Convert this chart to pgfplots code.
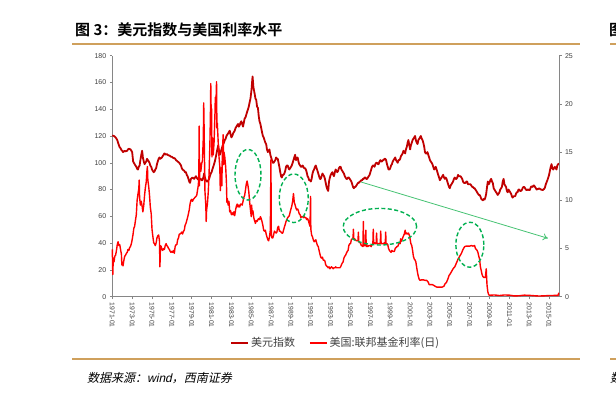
\documentclass[border=0pt]{standalone}
\usepackage{pgfplots}
\pgfplotsset{compat=1.18}
\usepackage{fontspec}
\setmainfont{Liberation Sans}
\newfontfamily\cjk[BoldFont={Noto Sans CJK SC Bold}]{Noto Sans CJK SC}
\newfontfamily\cjkit[FakeSlant=0.22]{Noto Sans CJK SC}
\newfontfamily\latit[FakeSlant=0.22]{Liberation Sans}
\usetikzlibrary{arrows.meta}
\definecolor{dxy}{RGB}{192,0,0}
\definecolor{ffr}{RGB}{255,0,0}
\definecolor{goldl}{RGB}{207,160,92}
\definecolor{egreen}{RGB}{0,176,80}
\definecolor{agreen}{RGB}{70,195,115}
\definecolor{axgray}{RGB}{134,134,134}
\definecolor{txt}{RGB}{64,64,64}
\pgfplotsset{
  common/.style={
    at={(112.3pt,109.3pt)}, anchor=south west, scale only axis,
    width=446.7pt, height=241pt, xmin=1971, xmax=2016,
    /pgf/number format/assume math mode=true,
    tick align=outside, major tick length=2.5pt,
    tick style={axgray, line width=0.5pt},
    axis line style={axgray, line width=0.6pt},
    y tick label style={font=\fontsize{7}{8}\selectfont, text=txt},
    clip=false,
  }
}
\begin{document}
\begin{tikzpicture}
\useasboundingbox[fill=white] (0,0) rectangle (616pt,406pt);
\draw[goldl,line width=2pt] (72pt,362pt) -- (580pt,362pt);
\draw[goldl,line width=2pt] (72pt,46.5pt) -- (580pt,46.5pt);
\draw[goldl,line width=2pt] (610pt,362pt) -- (620pt,362pt);
\draw[goldl,line width=2pt] (610pt,46.5pt) -- (620pt,46.5pt);
\node[anchor=west, inner sep=0pt] at (75pt,376pt) {\cjk\bfseries\fontsize{15}{17}\selectfont 图 3：美元指数与美国利率水平};
\node[anchor=west, inner sep=0pt] at (609pt,376pt) {\cjk\bfseries\fontsize{15}{17}\selectfont 图};
\node[anchor=west, inner sep=0pt] at (87pt,28pt) {\cjkit\fontsize{12}{14}\selectfont 数据来源：{\latit wind}，西南证券};
\node[anchor=west, inner sep=0pt] at (610pt,28pt) {\cjkit\fontsize{12}{14}\selectfont 数};
\begin{axis}[common, ymin=0, ymax=180,
  axis x line*=bottom, axis y line*=left,
  ytick={0,20,...,180},
  xtick={1971,1973,...,2015},
  xticklabels={1971-01,1973-01,1975-01,1977-01,1979-01,1981-01,1983-01,1985-01,1987-01,1989-01,1991-01,1993-01,1995-01,1997-01,1999-01,2001-01,2003-01,2005-01,2007-01,2009-01,2011-01,2013-01,2015-01},
  x tick label style={rotate=-90, anchor=west, font=\fontsize{6.8}{8}\selectfont, text=txt},
]
\addplot[dxy, line width=1.8pt, line join=round] coordinates {
(1971.00,120.5)(1971.08,120.2)(1971.17,120)(1971.25,119.5)(1971.33,119)(1971.42,118)(1971.50,117)(1971.58,115)(1971.67,113)(1971.75,111.5)(1971.83,111)(1971.92,109.5)
(1972.00,109)(1972.08,108)(1972.17,108.5)(1972.25,109)(1972.33,108.5)(1972.50,109)(1972.58,110)(1972.67,110.5)(1972.83,110)(1972.92,109)
(1973.00,108)(1973.10,101)(1973.17,100)(1973.25,99)(1973.33,98)(1973.42,97)(1973.50,95.5)(1973.58,95)(1973.67,97)(1973.75,98)(1973.83,102)(1973.92,106)
(1974.00,109)(1974.04,107)(1974.08,104)(1974.17,101)(1974.25,99)(1974.33,100)(1974.42,101)(1974.50,103)(1974.58,102)(1974.67,101)(1974.75,100)(1974.83,98)(1974.92,97)
(1975.00,95)(1975.08,94)(1975.17,93)(1975.25,93.5)(1975.33,95)(1975.42,96)(1975.50,99)(1975.58,101)(1975.67,103)(1975.75,104)(1975.83,103)(1975.92,103.5)
(1976.00,104)(1976.08,105)(1976.17,106)(1976.25,107)(1976.33,106.5)(1976.42,106)(1976.50,106.5)(1976.58,106)(1976.67,105.5)(1976.75,105.5)(1976.83,105)(1976.92,104.5)
(1977.00,104.5)(1977.08,104)(1977.17,103.5)(1977.25,103.5)(1977.33,103)(1977.42,102)(1977.50,101.5)(1977.58,101)(1977.67,100.5)(1977.75,100)(1977.83,99)(1977.92,98)
(1978.00,96)(1978.08,95)(1978.17,94.5)(1978.25,94)(1978.33,93)(1978.42,93)(1978.50,91)(1978.58,90)(1978.67,88)(1978.75,86)(1978.83,85)(1978.92,88)
(1979.00,88.5)(1979.08,89)(1979.17,88.5)(1979.25,88)(1979.33,89)(1979.42,90)(1979.50,89)(1979.58,88)(1979.67,87.5)(1979.75,87)(1979.83,88)(1979.92,88)
(1980.00,87)(1980.08,87)(1980.17,89)(1980.25,92)(1980.33,89)(1980.42,87)(1980.50,86)(1980.58,86)(1980.67,87)(1980.75,88)(1980.83,90)(1980.92,92)
(1981.00,93)(1981.08,95)(1981.17,97)(1981.25,99)(1981.33,101)(1981.42,104)(1981.50,107)(1981.58,110)(1981.67,113)(1981.75,109)(1981.83,106)(1981.92,108)
(1982.00,110)(1982.08,112)(1982.17,114)(1982.25,115)(1982.33,117)(1982.42,118)(1982.50,120)(1982.58,121)(1982.67,122)(1982.75,123)(1982.83,124)(1982.92,121)
(1983.00,119)(1983.08,120)(1983.17,122)(1983.25,123)(1983.33,124)(1983.42,126)(1983.50,127)(1983.58,128)(1983.67,129)(1983.75,127)(1983.83,128)(1983.92,130)
(1984.00,131)(1984.08,129)(1984.17,127)(1984.25,130)(1984.33,133)(1984.42,134)(1984.50,136)(1984.58,138)(1984.67,140)(1984.75,142)(1984.83,145)(1984.92,148)
(1985.00,153)(1985.04,156)(1985.08,160)(1985.13,164.5)(1985.17,161)(1985.21,157)(1985.25,155)(1985.33,152)(1985.42,148)(1985.50,147)(1985.58,142)(1985.67,141)(1985.75,135)(1985.83,131)(1985.92,129)
(1986.00,126)(1986.08,123)(1986.17,120)(1986.25,119)(1986.33,117)(1986.42,115)(1986.50,114)(1986.58,110)(1986.67,108)(1986.75,109)(1986.83,110)(1986.92,106)
(1987.00,104)(1987.08,102)(1987.17,100)(1987.25,100)(1987.33,101)(1987.42,102)(1987.50,104)(1987.58,103)(1987.67,103)(1987.75,100)(1987.83,97)(1987.92,93)
(1988.00,90)(1988.08,89)(1988.17,91)(1988.25,91)(1988.33,92)(1988.42,94)(1988.50,97)(1988.58,98)(1988.67,98)(1988.75,96)(1988.83,95)(1988.92,96)
(1989.00,97)(1989.08,98)(1989.17,100)(1989.25,102)(1989.33,104)(1989.42,106)(1989.50,102)(1989.58,103)(1989.67,104)(1989.75,101)(1989.83,99)(1989.92,98)
(1990.00,97)(1990.08,97)(1990.17,98)(1990.25,97)(1990.33,96)(1990.42,96)(1990.50,95)(1990.58,93)(1990.67,90)(1990.75,89)(1990.83,87)(1990.92,87)
(1991.00,86)(1991.08,88)(1991.17,92)(1991.25,94)(1991.33,95)(1991.42,97)(1991.50,98)(1991.58,96)(1991.67,94)(1991.75,92)(1991.83,90)(1991.92,88)
(1992.00,88)(1992.08,90)(1992.17,92)(1992.25,91)(1992.33,90)(1992.42,88)(1992.50,85)(1992.58,82)(1992.67,80)(1992.75,79)(1992.83,86)(1992.92,89)
(1993.00,91)(1993.08,92)(1993.17,93)(1993.25,91)(1993.33,90)(1993.42,93)(1993.50,95)(1993.58,94)(1993.67,93)(1993.75,94)(1993.83,96)(1993.92,97)
(1994.00,97)(1994.08,95)(1994.17,94)(1994.25,93)(1994.33,92)(1994.42,90)(1994.50,89)(1994.58,88)(1994.67,88)(1994.75,89)(1994.83,89)(1994.92,88)
(1995.00,87)(1995.08,86)(1995.17,84)(1995.25,82)(1995.33,81)(1995.42,82)(1995.50,82)(1995.58,83)(1995.67,84)(1995.75,85)(1995.83,85)(1995.92,86)
(1996.00,86)(1996.08,87)(1996.17,87)(1996.25,88)(1996.33,88)(1996.42,89)(1996.50,89)(1996.58,88)(1996.67,88)(1996.75,89)(1996.83,90)(1996.92,91)
(1997.00,93)(1997.08,95)(1997.17,97)(1997.25,98)(1997.33,98)(1997.42,97)(1997.50,99)(1997.58,100)(1997.67,100)(1997.75,99)(1997.83,99)(1997.92,101)
(1998.00,102)(1998.08,101)(1998.17,101)(1998.25,102)(1998.33,102)(1998.42,103)(1998.50,103)(1998.58,102)(1998.67,99)(1998.75,97)(1998.83,95)(1998.92,95)
(1999.00,96)(1999.08,98)(1999.17,99)(1999.25,101)(1999.33,102)(1999.42,103)(1999.50,104)(1999.58,102)(1999.67,101)(1999.75,100)(1999.83,102)(1999.92,102)
(2000.00,103)(2000.08,105)(2000.17,106)(2000.25,107)(2000.33,109)(2000.42,108)(2000.50,107)(2000.58,110)(2000.67,112)(2000.75,115)(2000.83,117)(2000.92,113)
(2001.00,110)(2001.08,113)(2001.17,115)(2001.25,117)(2001.33,118)(2001.42,119)(2001.50,120)(2001.58,117)(2001.67,115)(2001.75,114)(2001.83,117)(2001.92,118)
(2002.00,119)(2002.08,120)(2002.17,118)(2002.25,117)(2002.33,115)(2002.42,112)(2002.50,108)(2002.58,107)(2002.67,107)(2002.75,108)(2002.83,106)(2002.92,104)
(2003.00,102)(2003.08,101)(2003.17,100)(2003.25,99)(2003.33,97)(2003.42,95)(2003.50,96)(2003.58,97)(2003.67,95)(2003.75,93)(2003.83,91)(2003.92,89)
(2004.00,87)(2004.08,88)(2004.17,89)(2004.25,90)(2004.33,91)(2004.42,89)(2004.50,88)(2004.58,89)(2004.67,88)(2004.75,86)(2004.83,84)(2004.92,82)
(2005.00,81)(2005.08,83)(2005.17,84)(2005.25,85)(2005.33,86)(2005.42,88)(2005.50,89)(2005.58,88)(2005.67,88)(2005.75,89)(2005.83,91)(2005.92,90)
(2006.00,90)(2006.08,90)(2006.17,89)(2006.25,88)(2006.33,86)(2006.42,85)(2006.50,85)(2006.58,85)(2006.67,86)(2006.75,86)(2006.83,84)(2006.92,84)
(2007.00,84)(2007.08,84)(2007.17,83)(2007.25,82)(2007.33,82)(2007.42,81)(2007.50,81)(2007.58,80)(2007.67,79)(2007.75,78)(2007.83,77)(2007.92,76)
(2008.00,76)(2008.08,75)(2008.17,73)(2008.25,72.5)(2008.33,72)(2008.42,73)(2008.50,72.5)(2008.58,74)(2008.67,77)(2008.75,82)(2008.83,86)(2008.92,84)
(2009.00,85)(2009.08,87)(2009.17,88)(2009.25,86)(2009.33,85)(2009.42,81)(2009.50,80)(2009.58,79)(2009.67,78)(2009.75,77)(2009.83,76)(2009.92,77)
(2010.00,78)(2010.08,80)(2010.17,81)(2010.25,82)(2010.33,86)(2010.42,88)(2010.50,84)(2010.58,83)(2010.67,82)(2010.75,79)(2010.83,78)(2010.92,80)
(2011.00,79)(2011.08,78)(2011.17,77)(2011.25,75)(2011.33,74)(2011.42,75)(2011.50,75)(2011.58,75)(2011.67,77)(2011.75,78)(2011.83,78)(2011.92,80)
(2012.00,80)(2012.08,79)(2012.17,79)(2012.25,79.5)(2012.33,81)(2012.42,82)(2012.50,82)(2012.58,81)(2012.67,80)(2012.75,79.5)(2012.83,80)(2012.92,80)
(2013.00,79.5)(2013.08,80)(2013.17,82)(2013.25,82.5)(2013.33,82)(2013.42,83)(2013.50,83)(2013.58,82)(2013.67,81)(2013.75,80)(2013.83,80.5)(2013.92,80.5)
(2014.00,81)(2014.08,80.5)(2014.17,80)(2014.25,80)(2014.33,79.5)(2014.42,80)(2014.50,80.5)(2014.58,81.5)(2014.67,84)(2014.75,85.5)(2014.83,87)(2014.92,89)
(2015.00,91)(2015.08,94)(2015.17,97)(2015.25,99)(2015.33,96)(2015.42,95)(2015.50,96)(2015.58,97)(2015.67,96)(2015.75,95)(2015.83,98)(2015.92,99)(2016.00,99.5)
};
\end{axis}
\begin{axis}[common, ymin=0, ymax=25,
  axis y line*=right, axis x line=none,
  ytick={0,5,...,25},
  legend columns=2,
  legend style={at={(0.5,-0.192)}, anchor=center, draw=none, fill=none,
    font=\cjk\fontsize{11}{13}\selectfont, text=txt,
    /tikz/every even column/.append style={column sep=12pt}},
  legend image code/.code={\draw[#1] (0pt,0pt) -- (17pt,0pt);},
]
\addlegendimage{dxy, line width=1.8pt}
\addlegendentry{美元指数}
\addplot[ffr, line width=1.4pt, line join=round] coordinates {
(1971.00,4.9)(1971.05,2.3)(1971.10,4.0)(1971.17,3.6)(1971.25,4.2)(1971.33,4.3)(1971.42,4.8)(1971.50,5.4)(1971.58,5.7)(1971.67,5.3)(1971.75,5.4)(1971.83,4.9)(1971.92,4.4)(1971.96,3.3)
(1972.00,3.6)(1972.08,3.2)(1972.17,3.8)(1972.25,4.2)(1972.33,4.3)(1972.42,4.5)(1972.50,4.6)(1972.58,4.9)(1972.67,4.8)(1972.75,5.1)(1972.83,5.2)(1972.92,5.5)
(1973.00,5.9)(1973.08,6.4)(1973.17,7.1)(1973.25,7.3)(1973.33,7.9)(1973.42,8.5)(1973.50,10.0)(1973.58,10.6)(1973.67,11.2)(1973.71,12.1)(1973.75,10.3)(1973.83,9.5)(1973.92,9.9)
(1974.00,9.4)(1974.08,8.8)(1974.17,9.5)(1974.25,10.5)(1974.33,11.3)(1974.42,11.9)(1974.50,13.2)(1974.54,13.5)(1974.58,12.1)(1974.67,11.4)(1974.75,10.5)(1974.83,9.3)(1974.92,8.6)
(1975.00,7.0)(1975.08,6.3)(1975.17,5.6)(1975.25,5.5)(1975.33,5.3)(1975.42,5.6)(1975.50,6.1)(1975.58,6.3)(1975.67,6.4)(1975.75,5.8)(1975.80,3.1)(1975.85,5.3)(1975.92,5.2)
(1976.00,4.9)(1976.08,4.8)(1976.17,5.0)(1976.25,4.9)(1976.33,5.3)(1976.42,5.5)(1976.50,5.3)(1976.58,5.2)(1976.67,5.0)(1976.75,4.9)(1976.83,4.7)(1976.92,4.6)
(1977.00,4.7)(1977.08,4.6)(1977.17,4.8)(1977.25,4.5)(1977.33,5.2)(1977.42,5.4)(1977.50,5.4)(1977.58,5.9)(1977.67,6.1)(1977.75,6.5)(1977.83,6.5)(1977.92,6.6)
(1978.00,6.7)(1978.08,6.5)(1978.17,6.8)(1978.25,6.9)(1978.33,7.4)(1978.42,7.6)(1978.50,7.9)(1978.58,8.2)(1978.67,8.6)(1978.75,9.0)(1978.83,9.6)(1978.92,10.0)
(1979.00,10.1)(1979.08,9.9)(1979.17,10.1)(1979.25,10.2)(1979.33,10.3)(1979.42,10.4)(1979.50,10.5)(1979.58,11.0)(1979.67,11.6)(1979.72,12.8)(1979.75,17.7)(1979.78,11.5)(1979.83,13.9)(1979.92,13.0)
(1980.00,13.8)(1980.08,14.1)(1980.17,16.5)(1980.21,20.1)(1980.25,17.4)(1980.33,11.0)(1980.42,9.5)(1980.46,7.8)(1980.50,9.0)(1980.58,9.6)(1980.67,10.9)(1980.75,12.8)(1980.83,15.8)(1980.88,18.5)(1980.92,22.1)(1980.96,19.0)
(1981.00,19.5)(1981.04,14.5)(1981.08,16.5)(1981.17,14.7)(1981.25,16.0)(1981.33,18.5)(1981.38,20.7)(1981.42,19.1)(1981.50,22.3)(1981.54,17.5)(1981.58,18.0)(1981.67,16.0)(1981.75,14.5)(1981.83,13.5)(1981.88,11.0)(1981.92,12.5)
(1982.00,13.4)(1982.04,11.5)(1982.08,14.8)(1982.17,16.8)(1982.21,13.7)(1982.25,15.0)(1982.33,14.5)(1982.42,13.5)(1982.50,11.8)(1982.54,9.8)(1982.58,10.2)(1982.67,9.5)(1982.75,9.9)(1982.83,8.8)(1982.92,8.9)
(1983.00,8.5)(1983.08,8.7)(1983.17,8.5)(1983.25,8.8)(1983.33,8.4)(1983.42,9.0)(1983.50,9.4)(1983.58,9.6)(1983.67,9.3)(1983.75,9.5)(1983.83,9.3)(1983.92,9.6)
(1984.00,9.6)(1984.08,9.5)(1984.17,9.9)(1984.25,10.3)(1984.33,10.5)(1984.42,11.1)(1984.50,11.7)(1984.58,12.0)(1984.67,11.5)(1984.75,10.9)(1984.83,9.9)(1984.92,9.0)
(1985.00,8.3)(1985.04,9.5)(1985.08,8.6)(1985.17,8.9)(1985.25,8.2)(1985.33,7.9)(1985.42,7.6)(1985.50,7.9)(1985.58,7.8)(1985.67,8.0)(1985.75,8.1)(1985.83,8.0)(1985.92,8.3)
(1986.00,8.1)(1986.08,7.8)(1986.17,7.4)(1986.25,6.9)(1986.33,6.8)(1986.42,6.9)(1986.50,6.5)(1986.58,6.2)(1986.67,5.9)(1986.75,5.8)(1986.83,6.2)(1986.92,6.9)(1986.98,14.2)
(1987.02,6.4)(1987.08,6.1)(1987.17,6.1)(1987.25,6.4)(1987.33,6.8)(1987.42,6.7)(1987.50,6.6)(1987.58,6.7)(1987.67,7.2)(1987.75,7.3)(1987.83,6.8)(1987.92,6.8)
(1988.00,6.7)(1988.08,6.6)(1988.17,6.6)(1988.25,6.9)(1988.33,7.2)(1988.42,7.5)(1988.50,7.8)(1988.58,8.0)(1988.67,8.2)(1988.75,8.3)(1988.83,8.4)(1988.92,8.8)
(1989.00,9.1)(1989.08,9.4)(1989.17,9.9)(1989.25,10.7)(1989.33,9.8)(1989.42,9.5)(1989.50,9.2)(1989.58,9.0)(1989.67,9.1)(1989.75,8.9)(1989.83,8.6)(1989.92,8.5)
(1990.00,8.2)(1990.08,8.3)(1990.17,8.3)(1990.25,8.2)(1990.33,8.3)(1990.42,8.2)(1990.50,8.2)(1990.58,8.0)(1990.67,8.1)(1990.75,7.9)(1990.83,7.6)(1990.92,7.3)(1990.97,10.4)
(1991.00,7.0)(1991.08,6.4)(1991.17,6.2)(1991.25,5.9)(1991.33,5.7)(1991.42,5.8)(1991.50,5.9)(1991.58,5.6)(1991.67,5.3)(1991.75,5.2)(1991.83,4.8)(1991.92,4.4)
(1992.00,4.1)(1992.08,4.0)(1992.17,4.1)(1992.25,3.8)(1992.33,3.8)(1992.42,3.7)(1992.50,3.3)(1992.58,3.2)(1992.67,3.1)(1992.75,3.0)(1992.83,3.1)(1992.92,2.9)
(1993.00,3.0)(1993.08,3.1)(1993.17,3.0)(1993.25,2.9)(1993.33,3.0)(1993.42,3.0)(1993.50,3.1)(1993.58,3.0)(1993.67,3.0)(1993.75,3.0)(1993.83,3.0)(1993.92,3.0)
(1994.00,3.1)(1994.08,3.3)(1994.17,3.5)(1994.25,3.6)(1994.33,4.0)(1994.42,4.2)(1994.50,4.3)(1994.58,4.5)(1994.67,4.7)(1994.75,4.8)(1994.83,5.3)(1994.92,5.5)
(1995.00,5.5)(1995.08,5.9)(1995.17,6.0)(1995.25,6.1)(1995.29,7.0)(1995.33,6.0)(1995.42,6.0)(1995.50,5.9)(1995.58,5.8)(1995.67,5.8)(1995.75,5.8)(1995.79,6.7)(1995.83,5.7)(1995.92,5.6)
(1996.00,5.6)(1996.08,5.3)(1996.17,5.3)(1996.25,5.2)(1996.29,7.8)(1996.33,5.3)(1996.42,5.3)(1996.50,5.4)(1996.54,6.9)(1996.58,5.2)(1996.67,5.3)(1996.75,5.2)(1996.83,5.3)(1996.92,5.3)
(1997.00,5.3)(1997.08,5.2)(1997.17,5.4)(1997.25,5.5)(1997.29,7.0)(1997.33,5.5)(1997.42,5.6)(1997.50,5.5)(1997.58,5.5)(1997.62,6.6)(1997.67,5.5)(1997.75,5.5)(1997.83,5.5)(1997.92,5.5)
(1998.00,5.6)(1998.04,6.8)(1998.08,5.5)(1998.17,5.5)(1998.25,5.5)(1998.33,5.5)(1998.42,5.6)(1998.50,5.5)(1998.54,6.7)(1998.58,5.5)(1998.67,5.5)(1998.75,5.4)(1998.83,5.0)(1998.92,4.8)
(1999.00,4.7)(1999.08,4.6)(1999.17,4.8)(1999.25,4.7)(1999.33,4.7)(1999.42,4.7)(1999.50,5.0)(1999.58,5.1)(1999.67,5.2)(1999.75,5.2)(1999.83,5.4)(1999.92,5.6)
(2000.00,5.5)(2000.04,6.0)(2000.08,5.7)(2000.17,5.9)(2000.25,6.1)(2000.33,6.3)(2000.42,6.5)(2000.50,6.9)(2000.58,6.5)(2000.67,6.6)(2000.75,6.5)(2000.83,6.6)(2000.92,6.4)
(2001.00,6.0)(2001.08,5.5)(2001.17,5.3)(2001.25,4.8)(2001.33,4.2)(2001.42,3.9)(2001.50,3.8)(2001.58,3.6)(2001.67,3.0)(2001.75,2.5)(2001.83,2.1)(2001.92,1.8)
(2002.00,1.7)(2002.17,1.75)(2002.33,1.75)(2002.50,1.7)(2002.67,1.7)(2002.83,1.5)(2002.92,1.25)
(2003.00,1.25)(2003.25,1.25)(2003.50,1.1)(2003.67,1.0)(2003.83,1.0)
(2004.00,1.0)(2004.25,1.0)(2004.42,1.1)(2004.50,1.3)(2004.67,1.5)(2004.83,1.9)(2004.92,2.2)
(2005.00,2.3)(2005.17,2.6)(2005.33,2.9)(2005.50,3.1)(2005.67,3.5)(2005.83,3.9)
(2006.00,4.2)(2006.17,4.5)(2006.33,4.9)(2006.50,5.2)(2006.67,5.25)(2006.83,5.25)
(2007.00,5.25)(2007.17,5.3)(2007.33,5.25)(2007.50,5.3)(2007.58,5.0)(2007.67,4.9)(2007.75,4.8)(2007.83,4.6)(2007.92,4.2)
(2008.00,3.9)(2008.08,3.1)(2008.17,2.7)(2008.25,2.3)(2008.33,2.1)(2008.42,2.0)(2008.50,2.0)(2008.58,2.0)(2008.67,2.9)(2008.71,2.0)(2008.75,1.2)(2008.83,0.5)(2008.92,0.2)
(2009.00,0.15)(2009.50,0.18)(2010.00,0.12)(2010.50,0.18)(2011.00,0.16)(2011.50,0.08)(2012.00,0.1)(2012.50,0.16)(2013.00,0.14)(2013.50,0.1)(2014.00,0.07)(2014.50,0.09)(2015.00,0.12)(2015.50,0.13)(2015.92,0.13)(2015.96,0.35)(2016.00,0.37)
};
\addlegendentry{美国:联邦基金利率(日)}
\coordinate (e1) at (axis cs:1984.67,12.65);
\coordinate (e2) at (axis cs:1989.28,10.21);
\coordinate (e3) at (axis cs:1997.96,7.26);
\coordinate (e4) at (axis cs:2007.02,5.39);
\draw[agreen, line width=0.8pt, -{To[length=5pt,width=7pt]}] (axis cs:1996.05,11.9) -- (axis cs:2014.88,6.06);
\end{axis}
\begin{scope}[egreen, line width=1.4pt, dash pattern=on 4pt off 2.5pt]
\draw (e1) ellipse [x radius=13pt, y radius=25.3pt];
\draw (e2) ellipse [x radius=14.5pt, y radius=24.3pt];
\draw (e3) ellipse [x radius=36.7pt, y radius=18.3pt];
\draw (e4) ellipse [x radius=14pt, y radius=22.5pt];
\end{scope}
\end{tikzpicture}
\end{document}
